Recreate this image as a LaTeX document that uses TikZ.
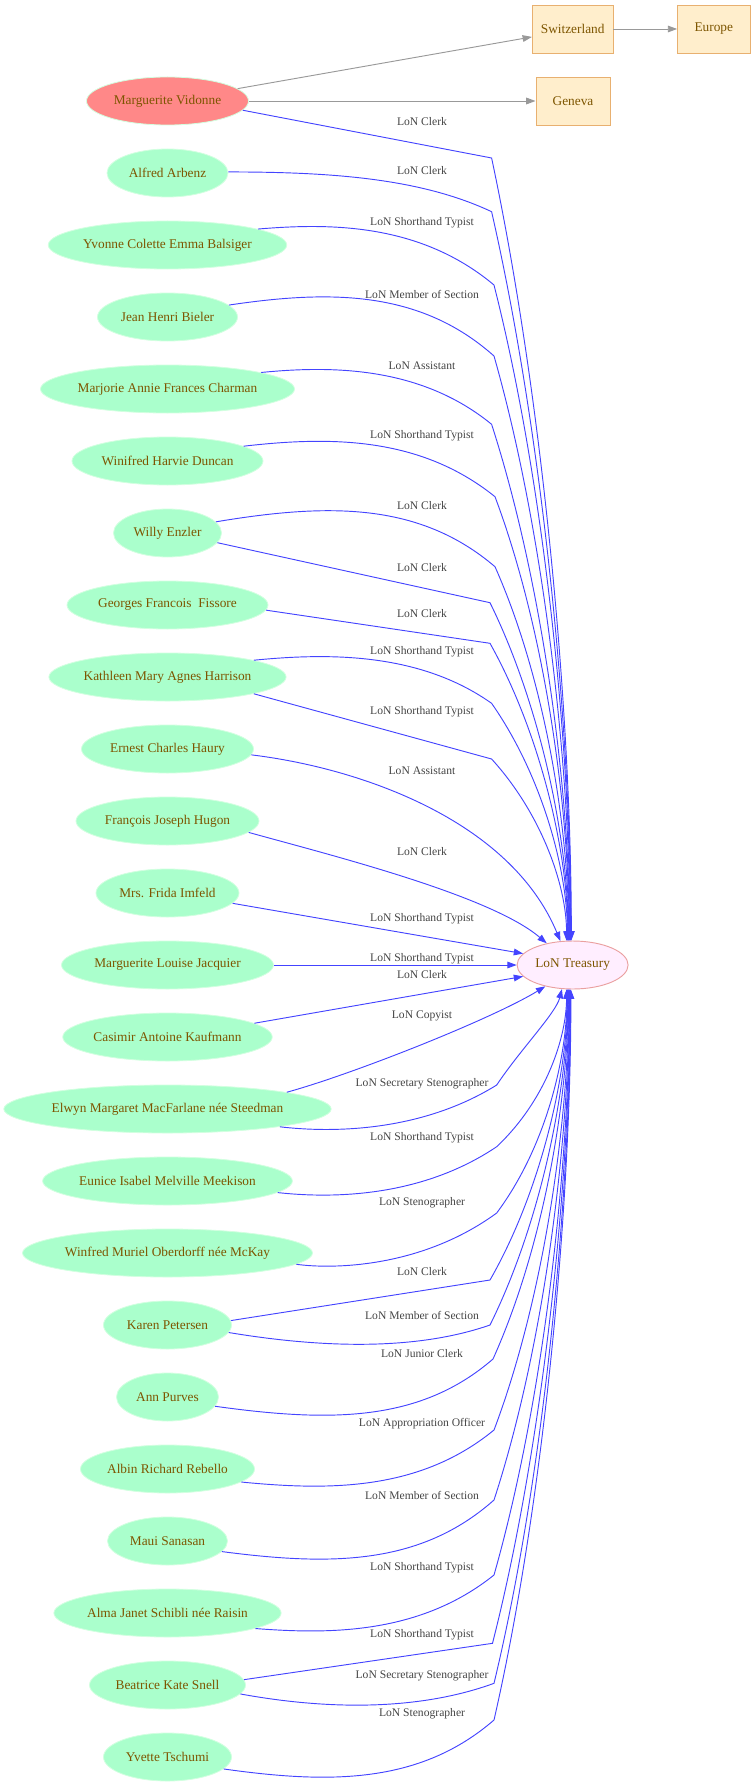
\documentclass[tikz,border=0pt]{standalone}
\usepackage{fontspec}
\setmainfont{Liberation Serif}
\usetikzlibrary{shapes.geometric,arrows.meta,calc}
\definecolor{pgreen}{HTML}{AAFFCC}
\definecolor{pborder}{HTML}{D2FFE0}
\definecolor{salmonf}{HTML}{FF8888}
\definecolor{trfill}{HTML}{FFEEFF}
\definecolor{trborder}{HTML}{EAA0A0}
\definecolor{boxfill}{HTML}{FFEECC}
\definecolor{boxborder}{HTML}{E8B070}
\definecolor{ntext}{HTML}{7D5500}
\definecolor{labgrey}{HTML}{444444}
\definecolor{edgeblue}{HTML}{4444FF}
\definecolor{edgegrey}{HTML}{999999}
\tikzset{
  pers/.style={ellipse, fill=pgreen, draw=pborder, line width=0.6pt, minimum height=36pt, inner sep=0pt, font=\fontsize{10}{12}\selectfont, text=ntext},
  place/.style={rectangle, fill=boxfill, draw=boxborder, line width=0.7pt, minimum height=36pt, inner sep=0pt, font=\fontsize{10}{12}\selectfont, text=ntext},
  elab/.style={inner sep=0pt, font=\fontsize{8.7}{10}\selectfont, text=labgrey},
  blueedge/.style={draw=edgeblue, line width=0.7pt, -{Triangle[length=7pt,width=5pt]}},
  greyedge/.style={draw=edgegrey, line width=0.7pt, -{Triangle[length=7pt,width=5pt]}}
}
\begin{document}
\begin{tikzpicture}[x=0.75pt,y=-0.75pt]
\useasboundingbox (0,0) rectangle (752,1787);
% places
\node[place, minimum width=60.4pt] (sw) at (572.7,29) {Switzerland};
\node[place, minimum width=54.3pt] (eu) at (713.8,29) {Europe};
\node[place, minimum width=55.5pt] (gen) at (573,101) {Geneva};
% treasury
\node[ellipse, fill=trfill, draw=trborder, line width=0.7pt, minimum width=83.25pt, minimum height=36pt, inner sep=0pt, font=\fontsize{10}{12}\selectfont, text=ntext] (tr) at (572.6,965) {LoN Treasury};
% persons
\node[pers, fill=salmonf, draw=pborder, minimum width=121.5pt] (mv) at (167.5,101) {Marguerite Vidonne};
\node[pers, minimum width=90.75pt] (aa) at (167.5,173) {Alfred Arbenz};
\node[pers, minimum width=176.25pt] (yb) at (167.5,245) {Yvonne Colette Emma Balsiger};
\node[pers, minimum width=105pt] (jhb) at (167.5,317) {Jean Henri Bieler};
\node[pers, minimum width=190.5pt] (mafc) at (167.5,389) {Marjorie Annie Frances Charman};
\node[pers, minimum width=143.25pt] (whd) at (167.5,461) {Winifred Harvie Duncan};
\node[pers, minimum width=81pt] (we) at (167.5,533) {Willy Enzler};
\node[pers, minimum width=150.75pt] (gff) at (167.5,605) {Georges Francois\ \ Fissore};
\node[pers, minimum width=177.75pt] (kmah) at (167.5,677) {Kathleen Mary Agnes Harrison};
\node[pers, minimum width=129pt] (ech) at (167.5,749) {Ernest Charles Haury};
\node[pers, minimum width=137.25pt] (fjh) at (167.5,821) {François Joseph Hugon};
\node[pers, minimum width=107.25pt] (fi) at (167.5,893) {Mrs. Frida Imfeld};
\node[pers, minimum width=159pt] (mlj) at (167.5,965) {Marguerite Louise Jacquier};
\node[pers, minimum width=156.75pt] (cak) at (167.5,1037) {Casimir Antoine Kaufmann};
\node[pers, minimum width=243pt] (em) at (167.5,1109) {Elwyn Margaret MacFarlane née Steedman};
\node[pers, minimum width=183.6pt] (eimm) at (167.5,1181) {Eunice Isabel Melville Meekison};
\node[pers, minimum width=213.75pt] (wmo) at (167.5,1253) {Winfred Muriel Oberdorff née McKay};
\node[pers, minimum width=96pt] (kp) at (167.5,1325) {Karen Petersen};
\node[pers, minimum width=76.5pt] (ap) at (167.5,1397) {Ann Purves};
\node[pers, minimum width=130.5pt] (arr) at (167.5,1469) {Albin Richard Rebello};
\node[pers, minimum width=90pt] (ms) at (167.5,1541) {Maui Sanasan};
\node[pers, minimum width=166.5pt] (ajs) at (167.5,1613) {Alma Janet Schibli née Raisin};
\node[pers, minimum width=117pt] (bks) at (167.5,1685) {Beatrice Kate Snell};
\node[pers, minimum width=96pt] (yt) at (167.5,1757) {Yvette Tschumi};
% grey edges
\draw[greyedge] (mv.10) -- (sw.191);
\draw[greyedge] (mv.east) -- (gen.west);
\draw[greyedge] (sw.east) -- (eu.west);
% blue edges, upper
\draw[blueedge] (mv.-7) -- (491.6,158) .. controls (541.6,393) and ($(tr.93)+(0,-235)$) .. (tr.93);
\draw[blueedge] (aa.1) .. controls (330,172) and (420,178) .. (491.6,211.7) .. controls (541.6,430.6) and ($(tr.94)+(0,-219)$) .. (tr.94);
\draw[blueedge] (yb.10.6) .. controls (330,223) and (420,223) .. (494,285) .. controls (544,482) and ($(tr.95)+(0,-197)$) .. (tr.95);
\draw[blueedge] (jhb.11.9) .. controls (330,290) and (420,290) .. (494,356) .. controls (544,531.6) and ($(tr.96)+(0,-175.6)$) .. (tr.96);
\draw[blueedge] (mafc.10.4) .. controls (330,365.7) and (420,365.7) .. (491.6,424.3) .. controls (541.6,579.3) and ($(tr.97)+(0,-155)$) .. (tr.97);
\draw[blueedge] (whd.11.5) .. controls (330,436.3) and (420,436.3) .. (495,496.7) .. controls (545,630.1) and ($(tr.98)+(0,-133.4)$) .. (tr.98);
\draw[blueedge] (we.13.3) .. controls (330,502.7) and (420,502.7) .. (495,566.7) .. controls (545,679.1) and ($(tr.99)+(0,-112.4)$) .. (tr.99);
\draw[blueedge] (we.-11.8) -- (490,602.7) .. controls (540,704.3) and ($(tr.100)+(0,-101.6)$) .. (tr.100);
\draw[blueedge] (gff.-3.8) -- (490,643.3) .. controls (540,732.8) and ($(tr.101)+(0,-89.5)$) .. (tr.101);
\draw[blueedge] (kmah.11) .. controls (330,652.7) and (420,652.7) .. (491.6,703.3) .. controls (541.6,774.8) and ($(tr.102)+(0,-71.5)$) .. (tr.102);
\draw[blueedge] (kmah.-11.6) -- (491.6,759) .. controls (541.6,813.8) and ($(tr.104)+(0,-54.8)$) .. (tr.104);
\draw[blueedge] (ech.-4.6) .. controls (360,768) and (510,820) .. (tr.117);
\draw[blueedge] (fjh.-8.9) .. controls (330,855) and (490,895) .. (tr.140.5);
\draw[blueedge] (fi.-9.6) -- (tr.167.5);
\draw[blueedge] (mlj.east) -- (tr.west);
\draw[blueedge] (cak.9.2) -- (tr.193.3);
% blue edges, lower
\draw[blueedge] (em.8.8) .. controls (350,1075) and (490,1020) .. (tr.218);
\draw[blueedge] (em.-9) .. controls (330,1132.7) and (420,1132.7) .. (496.7,1085) .. controls (520,1050) and ($(tr.246)+(-6,24)$) .. (tr.246);
\draw[blueedge] (eimm.-6.9) .. controls (330,1198.3) and (420,1198.3) .. (496.7,1146.7) .. controls (546.7,1099.4) and ($(tr.256)+(0,47.3)$) .. (tr.256);
\draw[blueedge] (wmo.-5.7) .. controls (330,1269) and (420,1269) .. (496.7,1213) .. controls (546.7,1145.8) and ($(tr.257)+(0,67.2)$) .. (tr.257);
\draw[blueedge] (kp.4.9) -- (490,1280) .. controls (540,1192.7) and ($(tr.258)+(0,87.3)$) .. (tr.258);
\draw[blueedge] (kp.-7.6) .. controls (330,1349.3) and (420,1349.3) .. (490,1325) .. controls (540,1224.2) and ($(tr.259)+(0,100.8)$) .. (tr.259);
\draw[blueedge] (ap.-11.6) .. controls (330,1422.3) and (420,1422.3) .. (493,1359) .. controls (543,1248) and ($(tr.260)+(0,111)$) .. (tr.260);
\draw[blueedge] (arr.-10.6) .. controls (330,1490.7) and (420,1490.7) .. (494,1430) .. controls (544,1297.7) and ($(tr.261)+(0,132.3)$) .. (tr.261);
\draw[blueedge] (ms.-11.4) .. controls (330,1565.7) and (420,1565.7) .. (494,1500) .. controls (544,1346.7) and ($(tr.262)+(0,153.3)$) .. (tr.262);
\draw[blueedge] (ajs.-10.1) .. controls (330,1634.3) and (420,1634.3) .. (494,1575) .. controls (544,1399.2) and ($(tr.263)+(0,175.8)$) .. (tr.263);
\draw[blueedge] (bks.4) -- (492.5,1643.3) .. controls (542.5,1447) and ($(tr.264)+(0,196.3)$) .. (tr.264);
\draw[blueedge] (bks.-7.7) .. controls (330,1710.3) and (420,1710.3) .. (494,1683.3) .. controls (544,1475) and ($(tr.265)+(0,208.3)$) .. (tr.265);
\draw[blueedge] (yt.-12.3) .. controls (330,1784) and (420,1784) .. (494,1720) .. controls (544,1500.7) and ($(tr.266)+(0,219.3)$) .. (tr.266);
% edge labels
\node[elab] (l0) at (422,121.7) {LoN Clerk};
\node[elab] (l1) at (422,170.7) {LoN Clerk};
\node[elab] (l2) at (422,222.7) {LoN Shorthand Typist};
\node[elab] (l3) at (422,294.7) {LoN Member of Section};
\node[elab] (l4) at (422,365.7) {LoN Assistant};
\node[elab] (l5) at (422,435.7) {LoN Shorthand Typist};
\node[elab] (l6) at (422,505.7) {LoN Clerk};
\node[elab] (l7) at (422,567.7) {LoN Clerk};
\node[elab] (l8) at (422,613.3) {LoN Clerk};
\node[elab] (l9) at (422,651.7) {LoN Shorthand Typist};
\node[elab] (l10) at (422,711.7) {LoN Shorthand Typist};
\node[elab] (l11) at (422,770.7) {LoN Assistant};
\node[elab] (l12) at (422,851.7) {LoN Clerk};
\node[elab] (l13) at (422,918.7) {LoN Shorthand Typist};
\node[elab] (l14) at (422,958.7) {LoN Shorthand Typist};
\node[elab] (l15) at (422,974.7) {LoN Clerk};
\node[elab] (l16) at (422,1015.7) {LoN Copyist};
\node[elab] (l17) at (422,1083.7) {LoN Secretary Stenographer};
\node[elab] (l18) at (422,1137.7) {LoN Shorthand Typist};
\node[elab] (l19) at (422,1202.7) {LoN Stenographer};
\node[elab] (l20) at (422,1271.7) {LoN Clerk};
\node[elab] (l21) at (422,1315.7) {LoN Member of Section};
\node[elab] (l22) at (422,1353.3) {LoN Junior Clerk};
\node[elab] (l23) at (422,1423.7) {LoN Appropriation Officer};
\node[elab] (l24) at (422,1495.7) {LoN Member of Section};
\node[elab] (l25) at (422,1567.7) {LoN Shorthand Typist};
\node[elab] (l26) at (422,1634.7) {LoN Shorthand Typist};
\node[elab] (l27) at (422,1675.7) {LoN Secretary Stenographer};
\node[elab] (l28) at (422,1713.7) {LoN Stenographer};
\end{tikzpicture}
\end{document}
